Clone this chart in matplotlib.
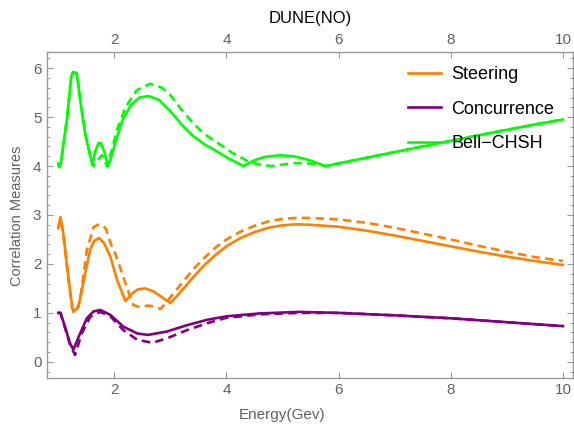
import matplotlib
matplotlib.use("Agg")
import matplotlib.pyplot as plt
from matplotlib.ticker import MultipleLocator

plt.rcParams['font.family'] = ['Liberation Sans', 'DejaVu Sans']

# Bell-CHSH (solid / dashed)
bell_e = [1.00, 1.02, 1.05, 1.10, 1.16, 1.23, 1.26, 1.33, 1.39, 1.48, 1.56, 1.61,
          1.66, 1.72, 1.76, 1.82, 1.89, 1.95, 2.05, 2.15, 2.30, 2.45, 2.61, 2.80,
          3.00, 3.20, 3.40, 3.60, 3.80, 4.00, 4.15, 4.30, 4.50, 4.70, 4.95, 5.20,
          5.45, 5.60, 5.77, 6.50, 7.50, 8.50, 9.50, 10.0]
bell_v = [4.05, 3.98, 4.08, 4.50, 5.00, 5.82, 5.92, 5.90, 5.35, 4.67, 4.26, 4.02,
          4.30, 4.47, 4.47, 4.30, 4.00, 4.20, 4.60, 4.95, 5.25, 5.40, 5.43, 5.35,
          5.12, 4.85, 4.62, 4.45, 4.32, 4.18, 4.09, 4.00, 4.12, 4.19, 4.22, 4.20,
          4.13, 4.07, 4.00, 4.17, 4.40, 4.63, 4.85, 4.95]
bell_d_e = [1.00, 1.02, 1.05, 1.10, 1.16, 1.23, 1.27, 1.34, 1.40, 1.49, 1.57, 1.63,
            1.70, 1.78, 1.83, 1.86, 1.95, 2.05, 2.20, 2.40, 2.64, 2.85, 3.00, 3.20,
            3.40, 3.60, 3.90, 4.10, 4.30, 4.40, 4.60, 4.80, 5.00, 5.20, 5.40, 5.60,
            5.77, 6.50, 7.50, 8.50, 9.50, 10.0]
bell_d_v = [4.05, 3.98, 4.08, 4.50, 5.00, 5.82, 5.92, 5.88, 5.30, 4.62, 4.22, 4.00,
            4.12, 4.22, 4.15, 4.00, 4.30, 4.75, 5.20, 5.55, 5.68, 5.60, 5.45, 5.15,
            4.88, 4.66, 4.43, 4.27, 4.15, 4.08, 4.03, 4.00, 4.03, 4.06, 4.06, 4.04,
            4.00, 4.17, 4.40, 4.63, 4.85, 4.95]

# Steering (solid / dashed)
steer_e = [1.00, 1.04, 1.09, 1.18, 1.25, 1.27, 1.32, 1.36, 1.48, 1.57, 1.65, 1.73,
           1.82, 1.93, 2.05, 2.20, 2.30, 2.42, 2.55, 2.70, 2.85, 3.00, 3.20, 3.40,
           3.60, 3.80, 4.00, 4.25, 4.50, 4.75, 5.00, 5.25, 5.50, 6.00, 6.50, 7.00,
           7.50, 8.00, 8.50, 9.00, 9.50, 10.0]
steer_v = [2.73, 2.96, 2.63, 1.74, 1.12, 1.02, 1.08, 1.12, 1.80, 2.30, 2.48, 2.53,
           2.42, 2.15, 1.67, 1.24, 1.38, 1.48, 1.50, 1.44, 1.32, 1.20, 1.45, 1.72,
           1.97, 2.18, 2.36, 2.53, 2.65, 2.74, 2.79, 2.81, 2.80, 2.76, 2.68, 2.58,
           2.47, 2.36, 2.25, 2.15, 2.06, 1.98]
steer_d_e = [1.00, 1.04, 1.09, 1.18, 1.25, 1.28, 1.33, 1.39, 1.51, 1.63, 1.70, 1.78,
             1.85, 1.93, 2.02, 2.10, 2.23, 2.34, 2.45, 2.60, 2.72, 2.82, 2.92, 3.00,
             3.20, 3.40, 3.60, 3.80, 4.00, 4.25, 4.50, 4.75, 5.00, 5.25, 5.50, 6.00,
             6.50, 7.00, 7.50, 8.00, 8.50, 9.00, 9.50, 10.0]
steer_d_v = [2.73, 2.93, 2.60, 1.70, 1.10, 1.00, 1.06, 1.27, 2.28, 2.75, 2.80, 2.80,
             2.72, 2.43, 2.20, 1.94, 1.50, 1.16, 1.12, 1.15, 1.13, 1.08, 1.20, 1.32,
             1.60, 1.88, 2.12, 2.33, 2.50, 2.66, 2.78, 2.87, 2.92, 2.94, 2.94, 2.91,
             2.84, 2.74, 2.62, 2.50, 2.37, 2.25, 2.14, 2.06]

# Concurrence (solid / dashed)
conc_e = [1.00, 1.04, 1.12, 1.21, 1.27, 1.39, 1.51, 1.63, 1.75, 1.93, 2.16, 2.41,
          2.60, 2.94, 3.30, 3.66, 4.00, 4.60, 5.30, 6.00, 7.00, 8.00, 9.00, 10.0]
conc_v = [1.00, 1.00, 0.72, 0.38, 0.25, 0.58, 0.89, 1.03, 1.06, 0.96, 0.72, 0.58,
          0.55, 0.62, 0.75, 0.86, 0.93, 0.99, 1.02, 1.00, 0.95, 0.89, 0.81, 0.73]
conc_d_e = [1.00, 1.04, 1.12, 1.21, 1.30, 1.42, 1.57, 1.75, 1.93, 2.16, 2.41, 2.68,
            2.94, 3.30, 3.66, 4.00, 4.60, 5.30, 6.00, 7.00, 8.00, 9.00, 10.0]
conc_d_v = [1.00, 1.00, 0.70, 0.35, 0.14, 0.58, 0.92, 1.02, 0.93, 0.65, 0.45, 0.39,
            0.48, 0.65, 0.79, 0.90, 0.97, 1.00, 1.00, 0.95, 0.89, 0.81, 0.73]

orange = '#FF8000'
purple = '#800080'
green = '#00FF00'
frame = '#999999'
tick_txt = '#606060'

fig = plt.figure(figsize=(5.74, 4.24), dpi=100)
ax = fig.add_axes([47 / 574, 46 / 424, 526 / 574, 326 / 424])

lw = 1.9
dash = (0, (3.2, 2.0))
ax.plot(steer_d_e, steer_d_v, color=orange, lw=lw, ls=dash)
ax.plot(conc_d_e, conc_d_v, color=purple, lw=lw, ls=dash)
ax.plot(bell_d_e, bell_d_v, color=green, lw=lw, ls=dash)
l1, = ax.plot(steer_e, steer_v, color=orange, lw=lw)
l2, = ax.plot(conc_e, conc_v, color=purple, lw=lw)
l3, = ax.plot(bell_e, bell_v, color=green, lw=lw)

ax.set_xlim(0.80, 10.18)
ax.set_ylim(-0.33, 6.33)
ax.xaxis.set_major_locator(MultipleLocator(2))
ax.yaxis.set_major_locator(MultipleLocator(1))
ax.yaxis.set_minor_locator(MultipleLocator(0.2))

for s in ax.spines.values():
    s.set_color(frame)
    s.set_linewidth(1.0)
ax.tick_params(which='both', direction='in', color=frame, top=True, right=True,
               labeltop=True, labelsize=11, labelcolor=tick_txt)
ax.tick_params(which='major', length=4.5, width=0.8)
ax.tick_params(which='minor', length=2.2, width=0.7)
ax.tick_params(axis='y', pad=4)

fig.text(310 / 574, 1 - 18 / 424, 'DUNE(NO)', ha='center', va='center',
         fontsize=12, color='black')
fig.text(282 / 574, 1 - 415 / 424, 'Energy(Gev)', ha='center', va='center',
         fontsize=11, color=tick_txt)
fig.text(17 / 574, 1 - 216 / 424, 'Correlation Measures', ha='center', va='center',
         rotation=90, fontsize=10.5, color=tick_txt)

ax.legend([l1, l2, l3], ['Steering', 'Concurrence', 'Bell\u2212CHSH'],
          loc='upper left', bbox_to_anchor=(408 / 574, 1 - 66 / 424),
          bbox_transform=fig.transFigure, frameon=False, fontsize=13,
          handlelength=1.8, handletextpad=0.6, labelspacing=0.98,
          borderpad=0, borderaxespad=0)

fig.savefig('out.png', dpi=100)
